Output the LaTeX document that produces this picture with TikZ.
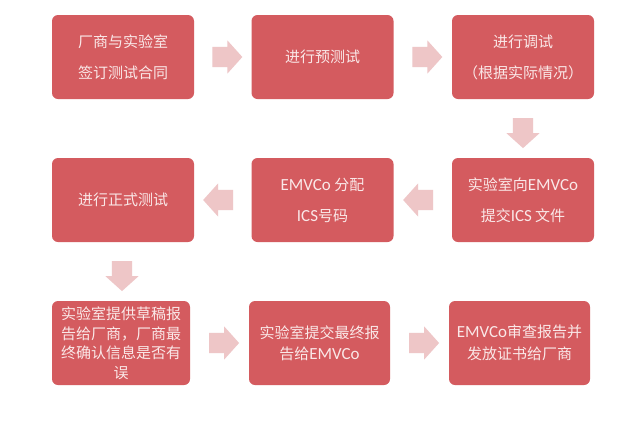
\documentclass[tikz,border=0pt]{standalone}
\usepackage{fontspec}
\setmainfont{Noto Sans CJK SC}
\newfontfamily\latinfont[Scale=1.13]{Carlito}
\usetikzlibrary{shapes.arrows,calc}
\definecolor{boxred}{HTML}{D45B5F}
\definecolor{arrowpink}{HTML}{EEC6C7}
\definecolor{boxtext}{HTML}{FAE8E8}

\begin{document}
\begin{tikzpicture}[x=1pt,y=-1pt]
  \useasboundingbox[fill=white] (0,0) rectangle (640,429);

  \tikzstyle{box}=[rounded corners=6pt, fill=boxred, text=boxtext, minimum width=142pt, minimum height=84pt, inner sep=2pt, align=center, font=\fontsize{15}{31}\selectfont]
  \tikzstyle{dense}=[font=\fontsize{15}{19.5}\selectfont]
  \tikzstyle{flow}=[single arrow, fill=arrowpink, minimum height=30pt, inner xsep=0pt, inner ysep=10pt, single arrow head extend=6.5pt, single arrow tip angle=96]

  \node[box] (sign) at (123,57) {厂商与实验室\\签订测试合同};
  \node[box] (pretest) at (322.5,57) {进行预测试};
  \node[box] (debug) at (523,57) {进行调试\\（根据实际情况）};
  \node[box] (submit) at (523,200) {实验室向{\latinfont EMVCo}\\提交{\latinfont ICS} 文件};
  \node[box] (assign) at (322.5,200) {{\latinfont EMVCo} 分配\\{\latinfont ICS}号码};
  \node[box] (formal) at (123,200) {进行正式测试};
  \node[box, dense, minimum width=138pt] (draft) at (121,343) {实验室提供草稿报\\告给厂商，厂商最\\终确认信息是否有\\误};
  \node[box, font=\fontsize{15}{21}\selectfont, minimum width=141pt] (final) at (319.5,343) {实验室提交最终报\\告给{\latinfont EMVCo}};
  \node[box, font=\fontsize{15}{22}\selectfont, minimum width=141pt] (cert) at (519.5,343) {{\latinfont EMVCo}审查报告并\\发放证书给厂商};

  \node[flow] (a1) at ($(sign.east)!0.5!(pretest.west)$) {};
  \node[flow] (a2) at ($(pretest.east)!0.5!(debug.west)$) {};
  \node[flow, rotate=-90] (a3) at ($(debug.south)!0.5!(submit.north)$) {};
  \node[flow, rotate=180] (a4) at ($(submit.west)!0.5!(assign.east)$) {};
  \node[flow, rotate=180] (a5) at ($(assign.west)!0.5!(formal.east)$) {};
  \node[flow, rotate=-90] (a6) at ($(formal.south)!0.5!(draft.north)$) {};
  \node[flow] (a7) at ($(draft.east)!0.5!(final.west)$) {};
  \node[flow] (a8) at ($(final.east)!0.5!(cert.west)$) {};
\end{tikzpicture}
\end{document}
